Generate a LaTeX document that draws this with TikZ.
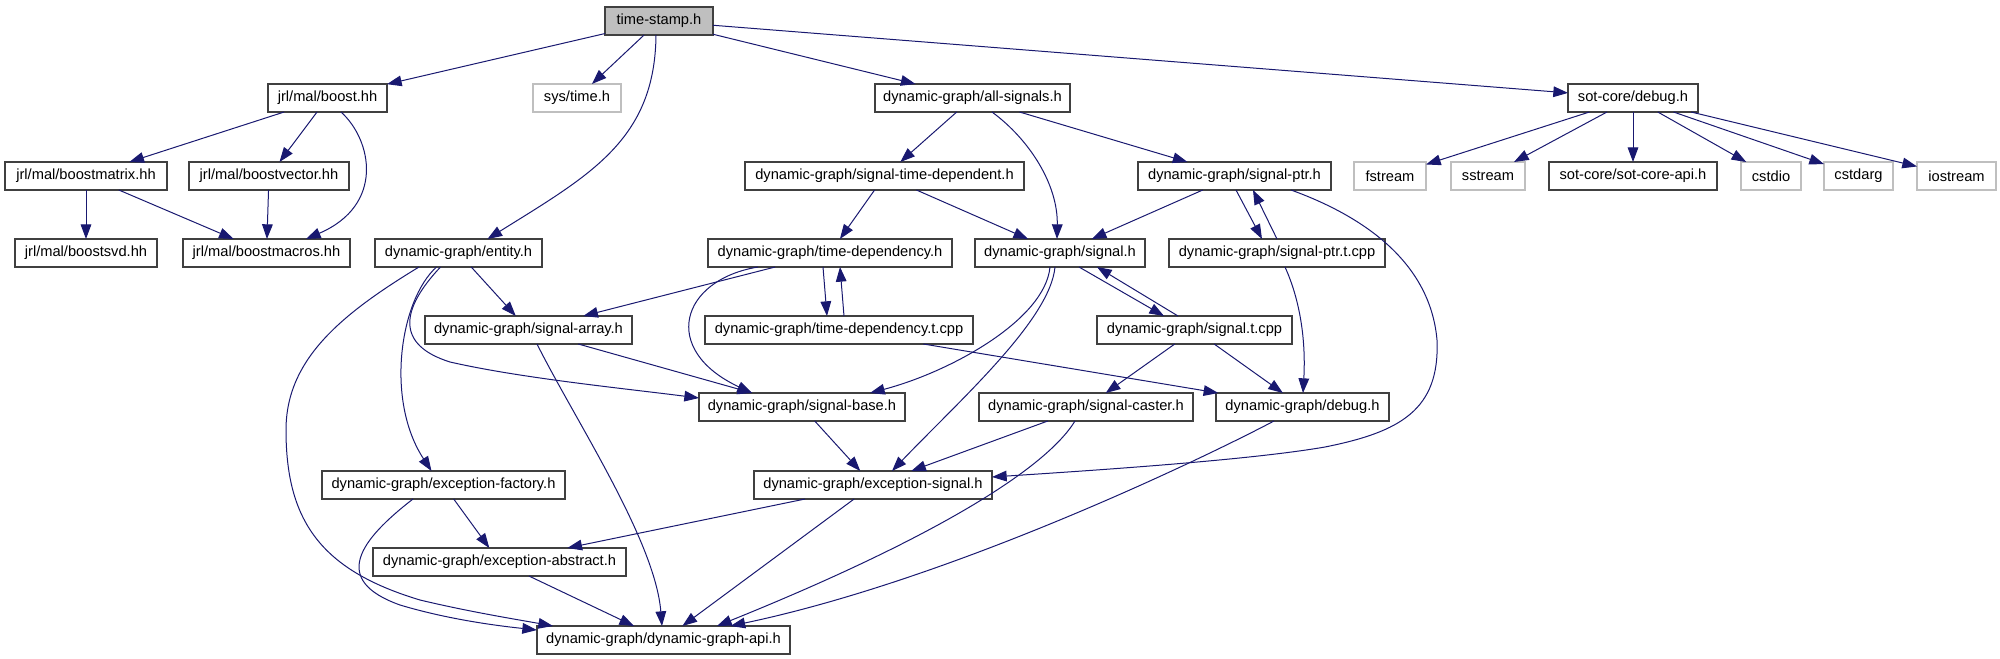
\documentclass[tikz,border=0pt]{standalone}
\usepackage{fontspec}
\setmainfont{Liberation Sans}
\usepackage{tikz}
\usetikzlibrary{arrows.meta, calc}
\usepackage{xcolor}
\definecolor{depblue}{HTML}{191970}
\definecolor{extgray}{HTML}{BFBFBF}
\definecolor{boxline}{HTML}{404040}

\begin{document}
\begin{tikzpicture}[
      x=0.75pt, y=-0.75pt,
      file/.style={rectangle, draw=boxline, line width=0.8pt, minimum height=21pt, inner sep=0pt, outer sep=0pt, font=\fontsize{11}{13}\selectfont},
      ext/.style={file, draw=extgray},
      dep/.style={-{Triangle[length=11pt, width=8pt]}, depblue, line width=0.75pt},
    ]
    \useasboundingbox (0,0) rectangle (2000,659);

    % row 0 and 1
    \node[file, fill=extgray, minimum width=81pt] (ts) at (659,21) {time-stamp.h};
    \node[file, minimum width=89.25pt] (boost) at (327.5,98) {jrl/mal/boost.hh};
    \node[ext, minimum width=66pt] (systime) at (577,98) {sys/time.h};
    \node[file, minimum width=146.25pt] (allsig) at (972.5,98) {dynamic-graph/all-signals.h};
    \node[file, minimum width=97.5pt] (sotdebug) at (1633,98) {sot-core/debug.h};

    % row 2
    \node[file, minimum width=121.5pt] (bmatrix) at (86,176) {jrl/mal/boostmatrix.hh};
    \node[file, minimum width=120pt] (bvector) at (269,176) {jrl/mal/boostvector.hh};
    \node[file, minimum width=209.25pt] (sigtimedep) at (884.5,176) {dynamic-graph/signal-time-dependent.h};
    \node[file, minimum width=144.75pt] (sigptr) at (1234.5,176) {dynamic-graph/signal-ptr.h};
    \node[ext, minimum width=54pt] (fstream) at (1390,176) {fstream};
    \node[ext, minimum width=55.5pt] (sstream) at (1488,176) {sstream};
    \node[file, minimum width=126pt] (sotapi) at (1633,176) {sot-core/sot-core-api.h};
    \node[ext, minimum width=45pt] (cstdio) at (1771,176) {cstdio};
    \node[ext, minimum width=51.75pt] (cstdarg) at (1858.5,176) {cstdarg};
    \node[ext, minimum width=59.25pt] (iostream) at (1956.5,176) {iostream};

    % row 3
    \node[file, minimum width=106.5pt] (bsvd) at (86,253) {jrl/mal/boostsvd.hh};
    \node[file, minimum width=125.25pt] (bmacros) at (266.5,253) {jrl/mal/boostmacros.hh};
    \node[file, minimum width=125.25pt] (entity) at (458.5,253) {dynamic-graph/entity.h};
    \node[file, minimum width=183pt] (timedep) at (830,253) {dynamic-graph/time-dependency.h};
    \node[file, minimum width=127.5pt] (signal) at (1060,253) {dynamic-graph/signal.h};
    \node[file, minimum width=162pt] (sigptrt) at (1277,253) {dynamic-graph/signal-ptr.t.cpp};

    % row 4
    \node[file, minimum width=155.25pt] (sigarray) at (528.5,330) {dynamic-graph/signal-array.h};
    \node[file, minimum width=201pt] (timedept) at (839,330) {dynamic-graph/time-dependency.t.cpp};
    \node[file, minimum width=146.25pt] (signalt) at (1194.5,330) {dynamic-graph/signal.t.cpp};

    % row 5
    \node[file, minimum width=154.5pt] (sigbase) at (802,407) {dynamic-graph/signal-base.h};
    \node[file, minimum width=160.5pt] (sigcaster) at (1086,407) {dynamic-graph/signal-caster.h};
    \node[file, minimum width=129.75pt] (dgdebug) at (1302.5,407) {dynamic-graph/debug.h};

    % rows 6 to 8
    \node[file, minimum width=182.25pt] (excfactory) at (443.5,485) {dynamic-graph/exception-factory.h};
    \node[file, minimum width=178.5pt] (excsignal) at (873,485) {dynamic-graph/exception-signal.h};
    \node[file, minimum width=189.75pt] (excabstract) at (499.5,562) {dynamic-graph/exception-abstract.h};
    \node[file, minimum width=189.75pt] (api) at (663.5,640) {dynamic-graph/dynamic-graph-api.h};

    % straight includes
    \draw[dep] (ts) -- (boost);
    \draw[dep] (ts) -- (systime);
    \draw[dep] (ts) -- (allsig);
    \draw[dep] (ts) -- (sotdebug);
    \draw[dep] (boost) -- (bmatrix);
    \draw[dep] (boost) -- (bvector);
    \draw[dep] (bmatrix) -- (bsvd);
    \draw[dep] (bmatrix) -- (bmacros);
    \draw[dep] (bvector) -- (bmacros);
    \draw[dep] (allsig) -- (sigtimedep);
    \draw[dep] (allsig) -- (sigptr);
    \foreach \n in {fstream, sstream, sotapi, cstdio, cstdarg, iostream}
      \draw[dep] (sotdebug) -- (\n);
    \draw[dep] (sigtimedep) -- (timedep);
    \draw[dep] (sigtimedep) -- (signal);
    \draw[dep] (sigptr) -- (signal);
    \draw[dep] (entity) -- (sigarray);
    \draw[dep] (timedep) -- (sigarray);
    \draw[dep] (sigarray) -- (sigbase);
    \draw[dep] (timedept) -- (dgdebug);
    \draw[dep] (signalt) -- (sigcaster);
    \draw[dep] (signalt) -- (dgdebug);
    \draw[dep] (sigbase) -- (excsignal);
    \draw[dep] (sigcaster) -- (excsignal);
    \draw[dep] (excsignal) -- (excabstract);
    \draw[dep] (excsignal) -- (api);
    \draw[dep] (excfactory) -- (excabstract);
    \draw[dep] (excabstract) -- (api);

    % back and forth pairs
    \draw[dep] ($(sigptr.south)+(1.5,0)$) -- ($(sigptrt.north)+(-15,0)$);
    \draw[dep] (sigptrt.north) -- ($(sigptr.south)+(18.5,0)$);
    \draw[dep] ($(timedep.south)+(-7,0)$) -- ($(timedept.north)+(-12,0)$);
    \draw[dep] ($(timedept.north)+(5,0)$) -- ($(timedep.south)+(10,0)$);
    \draw[dep] ($(signal.south)+(19,0)$) -- ($(signalt.north)+(-30.5,0)$);
    \draw[dep] ($(signalt.north)+(-16.5,0)$) -- ($(signal.south)+(37,0)$);

    % curved includes
    \draw[dep] ($(ts.south)+(-3,0)$) .. controls (655,140) and (590,175) .. ($(entity.north)+(29,0)$);
    \draw[dep] ($(boost.south)+(13.5,0)$) .. controls (372,140) and (385,205) .. ($(bmacros.north)+(39.5,0)$);
    \draw[dep] ($(allsig.south)+(19.5,0)$) .. controls (1030,140) and (1058,185) .. ($(signal.north)+(-3,0)$);
    \draw[dep] ($(timedep.south)+(-72,0)$) .. controls (680,280) and (660,350) .. ($(sigbase.north)+(-50,0)$);
    \draw[dep] ($(signal.south)+(-10,0)$) .. controls (1045,320) and (950,372) .. ($(sigbase.north)+(68,0)$);
    \draw[dep] ($(signal.south)+(-5,0)$) .. controls (1050,320) and (960,400) .. ($(excsignal.north)+(19,0)$);
    \draw[dep] ($(sigptr.south)+(56.5,0)$) .. controls (1360,215) and (1430,260) .. (1437,340)
      .. controls (1440,410) and (1400,432) .. (1325,447)
      .. controls (1250,460) and (1100,470) .. ($(excsignal.east)+(0,-8)$);
    \draw[dep] ($(sigptrt.south)+(8,0)$) .. controls (1300,300) and (1306,340) .. ($(dgdebug.north)+(0.5,0)$);
    \draw[dep] ($(entity.south)+(-18,0)$) .. controls (400,310) and (396,345) .. (450,362)
      .. controls (520,378) and (620,388) .. ($(sigbase.west)+(0,-9)$);
    \draw[dep] ($(entity.south)+(-22,0)$) .. controls (400,300) and (385,400) .. ($(excfactory.north)+(-12,0)$);
    \draw[dep] ($(entity.south)+(-39.5,0)$) .. controls (340,315) and (286,360) .. (286,430)
      .. controls (286,520) and (320,570) .. (420,600)
      .. controls (470,612) and (520,620) .. ($(api.north)+(-110.5,0)$);
    \draw[dep] ($(excfactory.south)+(-30.5,0)$) .. controls (360,540) and (330,580) .. (400,605)
      .. controls (450,620) and (500,626) .. ($(api.west)+(0,-10)$);
    \draw[dep] ($(sigarray.south)+(8.5,0)$) .. controls (575,420) and (655,540) .. ($(api.north)+(-1.5,0)$);
    \draw[dep] ($(sigcaster.south)+(-11,0)$) .. controls (1045,470) and (930,540) .. ($(api.north)+(53.5,0)$);
    \draw[dep] ($(dgdebug.south)+(-28.5,0)$) .. controls (1200,460) and (950,580) .. ($(api.north)+(67,0)$);
  \end{tikzpicture}
\end{document}
